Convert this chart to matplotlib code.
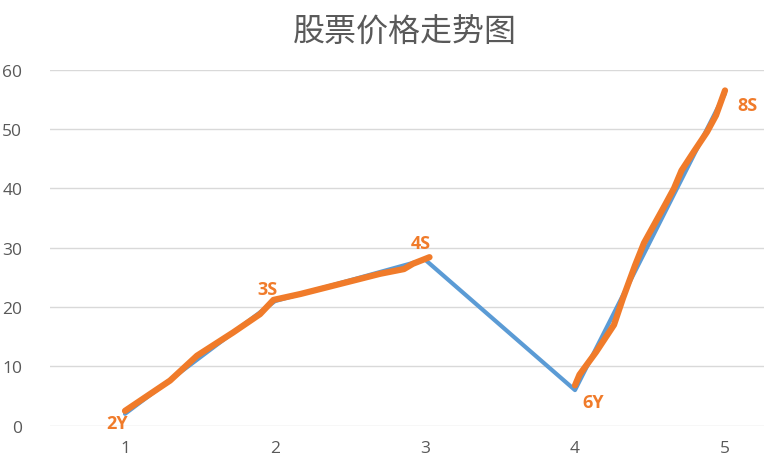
import matplotlib
matplotlib.use("Agg")
import matplotlib.pyplot as plt

plt.rcParams['font.family'] = ['Noto Sans CJK SC', 'DejaVu Sans']

# chart data
days = [1, 2, 3, 4, 5]
prices = [2, 21, 28, 6, 56]
point_labels = ['2Y', '3S', '4S', '6Y', '8S']
label_at = [(0.95, 0.5), (1.95, 23.0), (2.97, 30.8), (4.12, 4.0), (5.15, 54.0)]

# hand-drawn orange strokes over the line
stroke1_x = [1.0, 1.3, 1.48, 1.72, 1.9, 1.99, 2.17, 2.7, 2.86, 2.92, 3.03]
stroke1_y = [2.5, 7.6, 11.8, 15.7, 18.8, 21.2, 22.2, 25.6, 26.4, 27.3, 28.4]
stroke2_x = [4.0, 4.03, 4.14, 4.26, 4.32, 4.4, 4.46, 4.53, 4.6, 4.66, 4.71, 4.79, 4.88, 4.94, 5.0]
stroke2_y = [6.8, 8.6, 12.4, 17.0, 21.5, 27.0, 30.8, 34.0, 37.2, 40.0, 43.0, 46.1, 49.5, 52.3, 56.5]

blue = '#5B9BD5'
orange = '#F07B2A'
grey = '#595959'

fig = plt.figure(figsize=(7.64, 4.6), dpi=100)
ax = fig.add_axes([50 / 764, 33.3 / 460, 714 / 764, 356 / 460])

ax.plot(days, prices, color=blue, lw=3.0, solid_capstyle='round', zorder=3)
ax.plot(stroke1_x, stroke1_y, color=orange, lw=4.5, solid_capstyle='round',
        solid_joinstyle='round', zorder=4)
ax.plot(stroke2_x, stroke2_y, color=orange, lw=4.5, solid_capstyle='round',
        solid_joinstyle='round', zorder=4)

for txt, (lx, ly) in zip(point_labels, label_at):
    ax.text(lx, ly, txt, color=orange, fontsize=13, fontweight='bold',
            ha='center', va='center', family=['Open Sans', 'DejaVu Sans'], zorder=5)

ax.set_xlim(0.5, 0.5 + 714 / 150)
ax.set_ylim(0, 60)
ax.set_xticks(days)
ax.set_yticks(range(0, 61, 10))
ax.grid(axis='y', color='#D9D9D9', lw=1)
ax.set_axisbelow(True)
for s in ax.spines.values():
    s.set_visible(False)
ax.tick_params(length=0, colors=grey, labelsize=12.5)
ax.tick_params(axis='x', pad=10)
ax.tick_params(axis='y', pad=20)
for lab in ax.get_xticklabels() + ax.get_yticklabels():
    lab.set_family(['Open Sans', 'DejaVu Sans'])

fig.text(405 / 764, 1 - 33 / 460, '股票价格走势图', ha='center', va='center',
         fontsize=23, color=grey)

fig.savefig('out.png', dpi=100, facecolor='white')
